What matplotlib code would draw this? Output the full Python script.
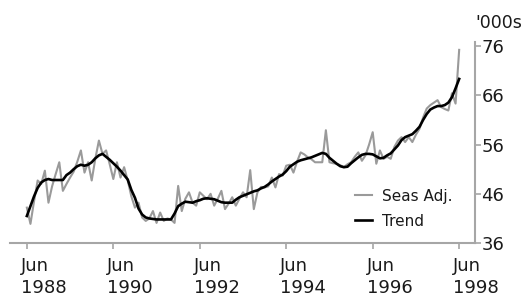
import matplotlib
matplotlib.use("Agg")
import matplotlib.pyplot as plt
import matplotlib.transforms as mtransforms
import numpy as np

# monthly, Jun 1988 .. Jun 1998
seas_adj = [
    43.2, 39.9, 44.5, 48.7, 48.0, 50.7, 44.2, 47.5, 50.0, 52.4, 46.6, 48.0,
    49.3, 50.5, 52.5, 54.8, 50.3, 52.4, 48.7, 53.1, 56.8, 54.1, 54.8, 52.0,
    49.0, 52.4, 49.3, 51.4, 48.7, 45.5, 43.2, 44.2, 41.2, 40.5, 41.0, 42.5,
    40.1, 42.2, 40.5, 41.0, 40.8, 40.1, 47.6, 42.5, 45.0, 46.3, 44.2, 43.6,
    46.3, 45.6, 44.9, 46.0, 43.6, 45.0, 46.6, 42.9, 44.0, 45.3, 43.6, 45.0,
    46.3, 45.3, 50.8, 42.9, 46.3, 47.4, 47.3, 47.5, 49.3, 47.3, 50.0, 49.7,
    51.7, 51.9, 50.3, 52.5, 54.4, 54.0, 53.4, 53.0, 52.4, 52.4, 52.4, 58.9,
    52.4, 52.2, 52.1, 51.8, 51.4, 52.0, 52.4, 53.5, 54.4, 52.7, 53.8, 56.0,
    58.5, 52.1, 54.8, 53.1, 53.5, 53.1, 55.5, 56.8, 57.5, 56.5, 57.5, 56.5,
    58.0, 59.2, 61.5, 63.3, 64.0, 64.5, 65.0, 63.6, 63.2, 62.9, 66.4, 64.3,
    75.2,
]
trend = [
    41.5, 43.5, 45.5, 47.2, 48.3, 48.8, 49.0, 48.8, 48.8, 48.8, 48.8, 49.8,
    50.3, 51.0, 51.6, 51.9, 51.7, 51.9, 52.4, 53.2, 53.8, 54.1, 53.5, 52.9,
    52.2, 51.5, 50.7, 49.8, 48.9, 46.8, 45.2, 43.0, 41.8, 41.2, 41.0, 40.9,
    40.8, 40.8, 40.8, 40.8, 40.8, 42.0, 43.5, 44.0, 44.4, 44.3, 44.2, 44.5,
    44.7, 45.0, 45.1, 45.0, 44.9, 44.6, 44.3, 44.2, 44.2, 44.2, 44.8, 45.3,
    45.6, 45.9, 46.2, 46.5, 46.7, 47.1, 47.4, 47.9, 48.5, 49.0, 49.5, 49.9,
    50.6, 51.5, 52.0, 52.5, 52.8, 53.0, 53.2, 53.4, 53.7, 54.0, 54.3, 54.1,
    53.3, 52.7, 52.1, 51.6, 51.4, 51.5, 52.2, 52.8, 53.4, 53.9, 54.1, 54.1,
    54.0, 53.6, 53.2, 53.3, 53.8, 54.2, 55.0, 55.8, 56.9, 57.5, 57.8, 58.1,
    58.8, 59.6, 61.0, 62.2, 63.1, 63.5, 63.8, 63.8, 64.0, 64.5, 65.6, 67.4,
    69.3,
]
tick_months = [0, 24, 48, 72, 96, 120]
tick_labels = ["Jun\n1988", "Jun\n1990", "Jun\n1992", "Jun\n1994", "Jun\n1996", "Jun\n1998"]
y_ticks = [36, 46, 56, 66, 76]

plt.rcParams["font.family"] = "DejaVu Sans"
axis_grey = "#a6a6a6"
text_col = "#1a1a1a"

fig = plt.figure(figsize=(5.22, 3.02), dpi=100)
ax = fig.add_axes([0.019, 0.195, 0.891, 0.666])

months = np.arange(len(seas_adj))
ax.plot(months, seas_adj, color="#9a9a9a", lw=1.5, label="Seas Adj.")
ax.plot(months, trend, color="black", lw=1.9, label="Trend")

ax.set_xlim(-4.7, 124.4)
ax.set_ylim(36, 76.8)

for s in ["top", "left"]:
    ax.spines[s].set_visible(False)
for s in ["bottom", "right"]:
    ax.spines[s].set_color(axis_grey)
    ax.spines[s].set_linewidth(1.5)

ax.yaxis.tick_right()
ax.set_yticks(y_ticks)
ax.set_xticks(tick_months)
ax.set_xticklabels(tick_labels, linespacing=1.3, ha="left")
ax.tick_params(axis="both", colors=axis_grey, labelcolor=text_col,
               labelsize=13, length=4, width=1.2, direction="out")
ax.tick_params(axis="y", pad=0.5)
ax.tick_params(axis="x", pad=6)

# x labels sit slightly left of their tick, left aligned
shift = mtransforms.ScaledTranslation(-6 / 100, 0, fig.dpi_scale_trans)
for lab in ax.get_xticklabels():
    lab.set_transform(lab.get_transform() + shift)

ax.text(1.0, 1.05, "'000s", transform=ax.transAxes, fontsize=12.5,
        color=text_col, ha="left", va="bottom")

leg = ax.legend(loc="upper left", bbox_to_anchor=(0.742, 0.27), frameon=False,
                fontsize=11, handlelength=1.1, handletextpad=0.65,
                labelspacing=0.65, borderpad=0, borderaxespad=0)
for t in leg.get_texts():
    t.set_color(text_col)

fig.savefig("out.png", dpi=100)
